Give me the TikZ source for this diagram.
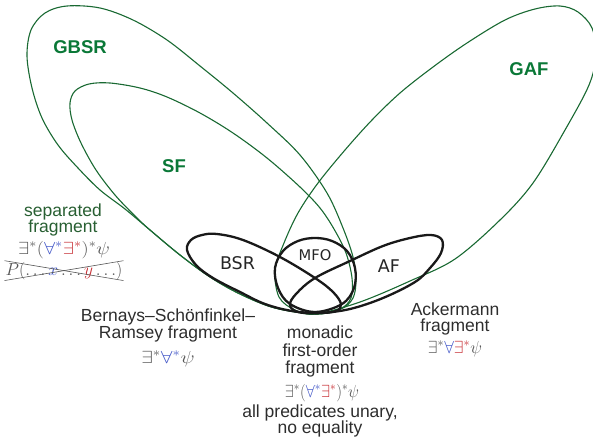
\RequirePackage{fix-cm}
\documentclass[tikz,border=0pt]{standalone}
\usepackage{fontspec}
\usepackage{graphicx}
\setmainfont{Liberation Sans}
\newfontfamily\dejavu{DejaVu Sans}
\definecolor{loopgreen}{RGB}{25,105,50}
\definecolor{labgreen}{RGB}{10,120,55}
\definecolor{sepgreen}{RGB}{40,95,50}
\definecolor{textgray}{RGB}{45,45,45}
\definecolor{fgray}{RGB}{85,85,85}
\definecolor{fblue}{RGB}{70,90,200}
\definecolor{fred}{RGB}{200,50,55}
\begin{document}
\begin{tikzpicture}[x=1pt,y=-1pt,
  greenloop/.style={draw=loopgreen, line width=1.1pt},
  blackloop/.style={draw=black!90, line width=2.3pt},
  biglabel/.style={font=\fontsize{18.5}{20}\selectfont\bfseries, text=labgreen, inner sep=0pt},
  setlabel/.style={font=\dejavu\fontsize{17.5}{20}\selectfont, text=black!85, inner sep=0pt},
  desc/.style={font=\fontsize{17.5}{18}\selectfont, text=textgray, anchor=base, inner sep=0pt},
  formula/.style={font=\fontsize{17.5}{18}\selectfont, text=fgray, anchor=base, inner sep=0pt}]
\useasboundingbox (0,0) rectangle (593,441);
\begin{scope}
\clip (0,0) rectangle (593,441);
% GBSR
\draw[greenloop] plot[smooth cycle, tension=0.55] coordinates {
 (316,314) (275,308) (240,294) (210,277) (180,255) (150,230) (125,209) (100,190) (78,168) (58,145) (42,118) (32,88) (27,56) (31,30) (45,13) (67,6) (100,8) (133,20) (167,40) (200,66) (233,93) (267,123) (300,155) (327,193) (343,228) (353,257) (356,280) (353,298) (341,309)};
% SF
\draw[greenloop] plot[smooth cycle, tension=0.55] coordinates {
 (316,314) (275,308) (240,294) (210,277) (180,255) (150,230) (135,216) (115,195) (96,170) (81,143) (72,120) (70,103) (75,91) (89,84) (110,83) (140,88) (167,97) (200,113) (233,133) (267,158) (300,187) (320,208) (334,229) (346,253) (352,278) (351,298) (340,309)};
% GAF
\draw[greenloop] plot[smooth cycle, tension=0.55] coordinates {
 (316,314) (360,302) (410,281) (455,259) (500,220) (533,183) (565,130) (589,85) (596,55) (592,28) (578,12) (560,6) (535,9) (505,20) (467,43) (433,67) (400,93) (372,120) (345,150) (318,183) (298,213) (284,243) (275,270) (279,297) (295,310)};
\end{scope}
% MFO
\draw[blackloop] plot[smooth cycle, tension=0.6] coordinates {
 (315,312) (290,304) (278,288) (275,268) (283,251) (298,241) (315,238) (332,241) (347,251) (355,268) (354,288) (342,304)};
% BSR
\draw[blackloop] plot[smooth cycle, tension=0.6] coordinates {
 (187,250) (191,240) (202,235) (217,234) (243,240) (280,257) (315,278) (333,292) (341,304) (336,311) (318,313) (292,311) (265,304) (240,292) (213,278) (196,265)};
% AF
\draw[blackloop] plot[smooth cycle, tension=0.6] coordinates {
 (315,278) (350,261) (383,246) (410,238) (431,235) (442,240) (441,253) (430,268) (415,282) (383,298) (350,309) (320,313) (298,312) (290,305) (296,294)};

% set labels
\node[biglabel] (gbsr) at (80,47) {GBSR};
\node[biglabel] (sf) at (174,166) {SF};
\node[biglabel] (gaf) at (529,69) {GAF};
\node[setlabel] (bsr) at (237.5,263) {BSR};
\node[setlabel, font=\dejavu\fontsize{14.7}{16}\selectfont] (mfo) at (315,255) {MFO};
\node[setlabel] (af) at (389,266.5) {AF};

% separated fragment
\node[desc, text=sepgreen] (sep1) at (63,216.5) {separated};
\node[desc, text=sepgreen] (sep2) at (63,232.5) {fragment};
\node[formula] (sepf) at (64,254) {\scalebox{1.15}[1]{$\exists^*(\textcolor{fblue}{\forall^*}\textcolor{fred}{\exists^*})^*\psi$}};
\node[formula, inner sep=1pt] (sepp) at (64,275) {$P(\ldots\textcolor{fblue}{x}\ldots\textcolor{fred}{y}\ldots)$};
\draw[fgray, line width=0.6pt] (sepp.north west) -- (sepp.south east);
\draw[fgray, line width=0.6pt] (sepp.south west) -- (sepp.north east);

% BSR description
\node[desc] (bsr1) at (168,321) {Bernays–Schönfinkel–};
\node[desc] (bsr2) at (168,338) {Ramsey fragment};
\node[formula] (bsrf) at (168,363) {\scalebox{1.2}[1]{$\exists^*\textcolor{fblue}{\forall^*}\psi$}};

% MFO description
\node[desc] (mfo1) at (320,338) {monadic};
\node[desc] (mfo2) at (320,356.5) {first-order};
\node[desc] (mfo3) at (320,373) {fragment};
\node[formula] (mfof) at (322,397) {\scalebox{0.93}[1]{$\exists^*(\textcolor{fblue}{\forall^*}\textcolor{fred}{\exists^*})^*\psi$}};
\node[desc] (mfo4) at (320,417) {all predicates unary,};
\node[desc] (mfo5) at (320,433) {no equality};

% AF description
\node[desc] (af1) at (455,315) {Ackermann};
\node[desc] (af2) at (455,331.5) {fragment};
\node[formula] (aff) at (455,353) {$\exists^*\textcolor{fblue}{\forall}\textcolor{fred}{\exists^*}\psi$};
\end{tikzpicture}
\end{document}
